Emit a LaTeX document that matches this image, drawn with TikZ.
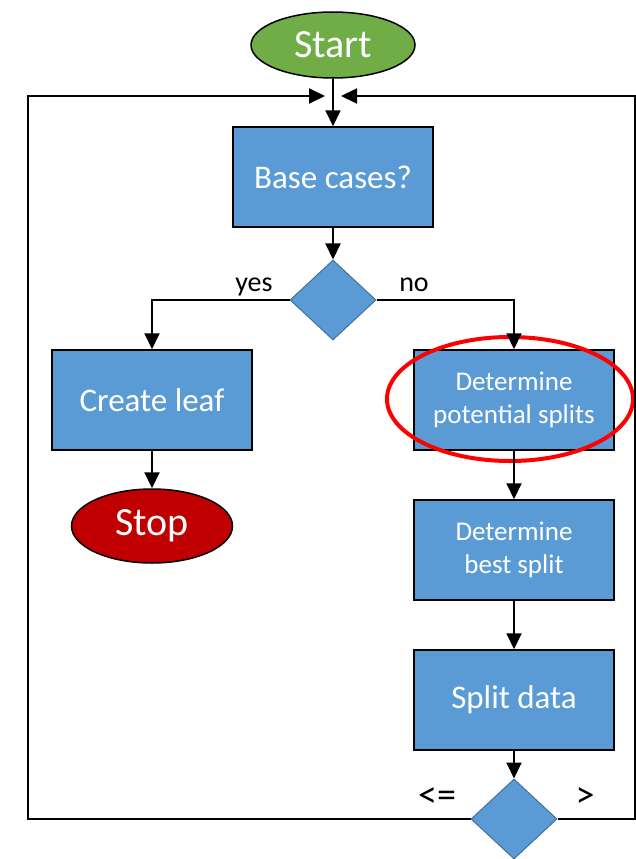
\documentclass[tikz,border=0pt]{standalone}
\usepackage{fontspec}
\setmainfont{Carlito}
\usetikzlibrary{shapes.geometric,arrows.meta}
\definecolor{boxblue}{HTML}{5B9BD5}
\definecolor{dborder}{HTML}{41719C}
\definecolor{startgreen}{HTML}{70AD47}
\definecolor{stopred}{HTML}{C00000}
\tikzset{
  procbox/.style={draw=black, line width=1.5pt, fill=boxblue, minimum width=200pt, minimum height=100pt, text=white, align=center, inner sep=0pt},
  bigtxt/.style={font=\fontsize{33}{40}\selectfont},
  smalltxt/.style={font=\fontsize{27}{33}\selectfont},
  terminal/.style={ellipse, draw=black, line width=1.5pt, text=white, inner sep=0pt, font=\fontsize{40}{48}\selectfont},
  decide/.style={diamond, draw=dborder, line width=1pt, fill=boxblue, minimum width=86pt, minimum height=80pt, inner sep=0pt},
  arr/.style={line width=2pt, -{Triangle[length=16pt,width=15pt]}},
  lbl/.style={font=\fontsize{28}{33}\selectfont, text=black, inner sep=0pt, anchor=base},
  cmp/.style={font=\fontsize{38}{44}\selectfont, text=black, inner sep=0pt, anchor=base}
}
\begin{document}
\begin{tikzpicture}[x=1pt, y=-1pt]
\useasboundingbox (0,0) rectangle (636,859);
\node[terminal, fill=startgreen, minimum width=164pt, minimum height=66pt] (start) at (333,45) {Start};
\node[procbox, bigtxt] (base) at (333,177) {Base cases?};
\node[decide] (d1) at (333,300) {};
\node[procbox, bigtxt] (leaf) at (152,400) {Create leaf};
\node[terminal, fill=stopred, minimum width=161pt, minimum height=74pt] (stop) at (152,526) {Stop};
\node[procbox, smalltxt] (pot) at (514,400) {Determine\\potential splits};
\node[procbox, smalltxt] (best) at (514,550) {Determine\\best split};
\node[procbox, bigtxt] (split) at (514,700) {Split data};
\node[decide] (d2) at (514,819) {};
\node[ellipse, draw=red, line width=4pt, minimum width=246pt, minimum height=124pt, inner sep=0pt] (hl) at (510,399) {};
\node[lbl] (yes) at (254,291) {yes};
\node[lbl] (no) at (414,291) {no};
\node[cmp] (le) at (437,807) {<=};
\node[cmp] (gt) at (585,807) {>};
\coordinate (tl) at (325,96);
\coordinate (tr) at (341,96);
\coordinate (lc) at (28,819);
\coordinate (lt) at (28,96);
\coordinate (rc) at (635,819);
\coordinate (rt) at (635,96);
\draw[arr] (start) -- (base);
\draw[arr] (base) -- (d1);
\draw[arr] (d1.west) -| (leaf.north);
\draw[arr] (d1.east) -| (pot.north);
\draw[arr] (leaf) -- (stop);
\draw[arr] (pot) -- (best);
\draw[arr] (best) -- (split);
\draw[arr] (split) -- (d2);
\draw[arr] (d2.west) -- (lc) -- (lt) -- (tl);
\draw[arr] (d2.east) -- (rc) -- (rt) -- (tr);
\end{tikzpicture}
\end{document}
